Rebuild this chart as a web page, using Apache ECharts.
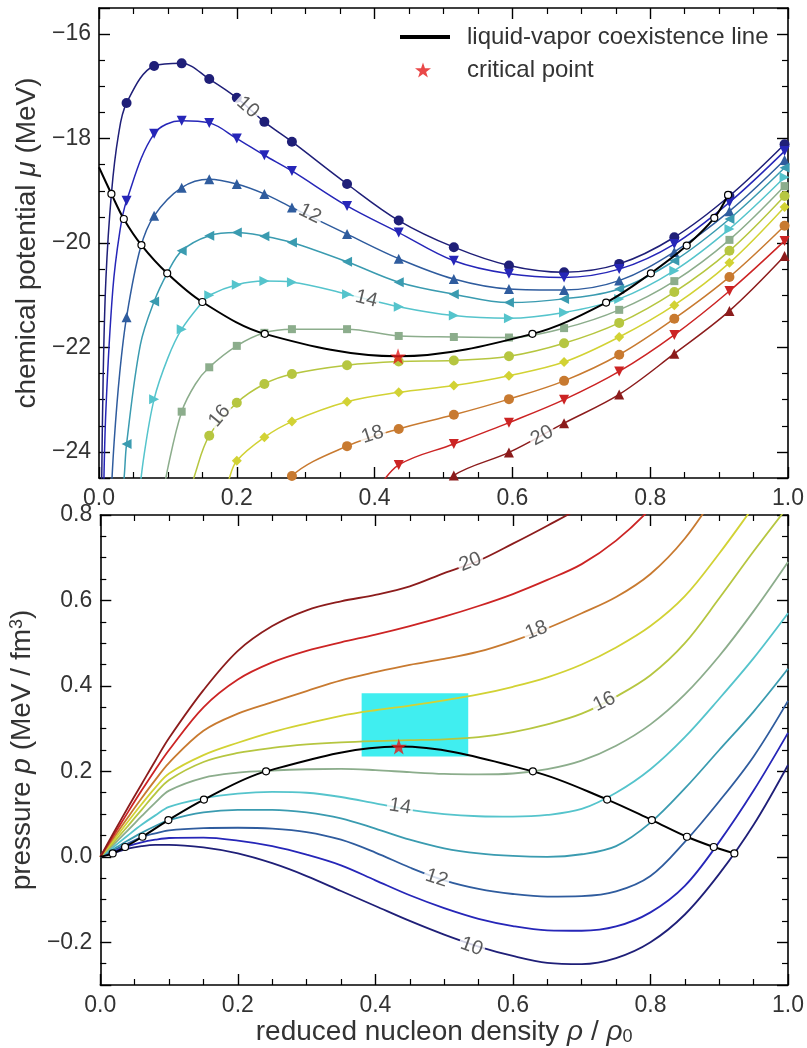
<!DOCTYPE html>
<html><head><meta charset="utf-8">
<script src="https://cdn.jsdelivr.net/npm/echarts@6/dist/echarts.min.js"></script>
<style>html,body{margin:0;padding:0;background:#fff}#c{width:807px;height:1048px}</style>
</head><body><div id="c"></div>
<script>
// ---------------- data ----------------
const temps = [10, 11, 12, 13, 14, 15, 16, 17, 18, 19, 20];
const isoColors = ['#1f1f78', '#2626b8', '#2f5c9e', '#3a9bb0', '#55c4cc', '#8cad8c', '#b6c640', '#d2d234', '#c87a30', '#cc2424', '#8c1c1c'];
const isoSymbols = ['circle', 'triangle', 'triangle', 'triangle', 'triangle', 'rect', 'circle', 'diamond', 'circle', 'triangle', 'triangle'];
const isoSymbolRotate = [0, 180, 0, 90, -90, 0, 0, 0, 0, 180, 0];

// top panel: chemical potential at marker densities
const rhoMarkers = [0.04, 0.08, 0.12, 0.16, 0.20, 0.24, 0.28, 0.36, 0.435, 0.515, 0.595, 0.675, 0.755, 0.835, 0.915, 0.995];
const muMarkers = [
  [-17.32, -16.61, -16.56, -16.86, -17.22, -17.68, -18.06, -18.87, -19.57, -20.08, -20.43, -20.56, -20.40, -19.89, -19.10, -18.11],
  [-19.19, -17.91, -17.66, -17.70, -18.00, -18.32, -18.62, -19.29, -19.80, -20.34, -20.59, -20.66, -20.50, -20.02, -19.22, -18.24],
  [-21.42, -19.48, -18.94, -18.78, -18.87, -19.06, -19.32, -19.83, -20.30, -20.69, -20.88, -20.90, -20.72, -20.17, -19.39, -18.41],
  [-23.85, -21.12, -20.15, -19.86, -19.80, -19.87, -19.99, -20.36, -20.75, -20.98, -21.14, -21.07, -20.88, -20.34, -19.54, -18.56],
  [null, -22.99, -21.65, -21.00, -20.80, -20.73, -20.75, -20.98, -21.22, -21.39, -21.44, -21.33, -21.07, -20.53, -19.73, -18.74],
  [null, null, -23.23, -22.38, -21.97, -21.72, -21.65, -21.65, -21.78, -21.80, -21.81, -21.63, -21.28, -20.73, -19.94, -18.91],
  [null, null, null, -23.69, -23.06, -22.70, -22.51, -22.34, -22.27, -22.25, -22.17, -21.92, -21.53, -20.94, -20.15, -19.10],
  [null, null, null, null, -24.17, -23.72, -23.42, -23.04, -22.86, -22.73, -22.54, -22.28, -21.80, -21.19, -20.38, -19.31],
  [null, null, null, null, null, null, -24.46, -23.89, -23.56, -23.29, -22.99, -22.64, -22.14, -21.45, -20.65, -19.67],
  [null, null, null, null, null, null, null, null, -24.25, -23.85, -23.44, -23.00, -22.46, -21.76, -20.92, -19.96],
  [null, null, null, null, null, null, null, null, null, -24.45, -24.01, -23.45, -22.90, -22.12, -21.30, -20.25]
];
// top panel: extra (unmarked) curve points, low density
const muExtra = [
  [[0.0035, -25.0], [0.006, -22.6], [0.01, -20.7], [0.018, -19.06], [0.028, -17.95]],
  [[0.0065, -25.0], [0.01, -23.2], [0.02, -20.9], [0.03, -19.8]],
  [[0.017, -25.0], [0.022, -23.8], [0.03, -22.5], [0.06, -20.1]],
  [[0.0335, -25.0], [0.037, -24.4], [0.06, -21.95], [0.099, -20.58]],
  [[0.057, -25.0], [0.065, -24.1], [0.10, -22.2], [0.15, -21.13]],
  [[0.091, -25.0], [0.10, -24.3], [0.14, -22.7]],
  [[0.128, -25.0], [0.14, -24.4]],
  [[0.178, -25.0], [0.188, -24.55]],
  [[0.272, -24.9]],
  [[0.40, -24.8]],
  [[0.49, -24.9]]
];

// bottom panel: pressure isotherms
const rhoP = [0, 0.02, 0.04, 0.06, 0.08, 0.1, 0.15, 0.2, 0.25, 0.3, 0.35, 0.4, 0.45, 0.5, 0.55, 0.6, 0.65, 0.7, 0.75, 0.8, 0.85, 0.9, 0.95, 1.0];
const pIso = [
  [0, 0.009, 0.019, 0.025, 0.028, 0.028, 0.022, 0.008, -0.015, -0.045, -0.08, -0.115, -0.15, -0.182, -0.21, -0.232, -0.248, -0.251, -0.237, -0.2, -0.135, -0.04, 0.075, 0.215],
  [0, 0.013, 0.025, 0.034, 0.04, 0.044, 0.045, 0.038, 0.025, 0.005, -0.02, -0.055, -0.09, -0.12, -0.145, -0.162, -0.172, -0.173, -0.163, -0.13, -0.068, 0.035, 0.155, 0.29],
  [0, 0.016, 0.031, 0.046, 0.055, 0.062, 0.067, 0.068, 0.066, 0.058, 0.04, 0.01, -0.025, -0.055, -0.075, -0.087, -0.093, -0.092, -0.081, -0.045, 0.035, 0.13, 0.235, 0.365],
  [0, 0.019, 0.038, 0.056, 0.072, 0.086, 0.104, 0.11, 0.11, 0.104, 0.09, 0.066, 0.04, 0.02, 0.008, 0.002, 0.0, 0.006, 0.025, 0.08, 0.16, 0.25, 0.34, 0.44],
  [0, 0.024, 0.05, 0.075, 0.097, 0.117, 0.137, 0.148, 0.152, 0.15, 0.14, 0.125, 0.11, 0.1, 0.095, 0.094, 0.098, 0.112, 0.15, 0.205, 0.28, 0.37, 0.465, 0.57],
  [0, 0.03, 0.062, 0.095, 0.127, 0.155, 0.185, 0.197, 0.202, 0.205, 0.206, 0.203, 0.198, 0.194, 0.193, 0.195, 0.205, 0.225, 0.26, 0.31, 0.38, 0.47, 0.575, 0.69],
  [0, 0.035, 0.072, 0.11, 0.148, 0.18, 0.222, 0.243, 0.255, 0.263, 0.268, 0.271, 0.273, 0.275, 0.28, 0.292, 0.31, 0.335, 0.375, 0.425, 0.5, 0.605, 0.715, 0.82],
  [0, 0.04, 0.082, 0.123, 0.162, 0.195, 0.238, 0.267, 0.292, 0.312, 0.33, 0.343, 0.354, 0.366, 0.38, 0.398, 0.42, 0.45, 0.49, 0.54, 0.61, 0.71, 0.82, 0.93],
  [0, 0.046, 0.092, 0.137, 0.18, 0.22, 0.295, 0.335, 0.362, 0.388, 0.413, 0.432, 0.449, 0.463, 0.48, 0.505, 0.535, 0.57, 0.608, 0.662, 0.745, 0.86, 0.98, 1.1],
  [0, 0.052, 0.104, 0.155, 0.204, 0.25, 0.35, 0.415, 0.455, 0.482, 0.502, 0.52, 0.54, 0.562, 0.587, 0.615, 0.648, 0.685, 0.74, 0.815, 0.91, 1.02, 1.13, 1.25],
  [0, 0.058, 0.115, 0.17, 0.225, 0.278, 0.39, 0.482, 0.54, 0.577, 0.598, 0.613, 0.633, 0.664, 0.693, 0.733, 0.775, 0.82, 0.88, 0.95, 1.03, 1.12, 1.22, 1.33]
];

// coexistence line (vapor branch, critical point, liquid branch)
const coexRho = [0.0, 0.018, 0.036, 0.0616, 0.099, 0.150, 0.2406, 0.434, 0.629, 0.736, 0.801, 0.853, 0.893, 0.913];
const coexMu = [-18.55, -19.06, -19.54, -20.04, -20.58, -21.13, -21.74, -22.17, -21.74, -21.14, -20.58, -20.05, -19.52, -19.08];
const coexRhoP = [0.0, 0.018, 0.036, 0.0613, 0.099, 0.1507, 0.241, 0.434, 0.629, 0.737, 0.802, 0.853, 0.892, 0.922];
const coexP = [0.0, 0.008, 0.023, 0.047, 0.086, 0.134, 0.200, 0.258, 0.200, 0.134, 0.086, 0.047, 0.023, 0.008];
const coexMarked = [0, 1, 1, 1, 1, 1, 1, 0, 1, 1, 1, 1, 1, 1];
const critRho = 0.434, critMu = -22.17, critP = 0.258;

// highlighted region in pressure panel
const boxRho = [0.38, 0.535];
const boxP = [0.235, 0.383];

// isotherm labels: [rho, value, text, angle]
const labelsTop = [
  [0.216, -17.40, '10', -42], [0.306, -19.44, '12', -26], [0.388, -21.07, '14', -14],
  [0.175, -23.31, '16', 50], [0.397, -23.67, '18', 18], [0.643, -23.69, '20', 28]
];
const labelsBottom = [
  [0.538, 0.690, '20', 21], [0.634, 0.530, '18', 21], [0.733, 0.363, '16', 26],
  [0.436, 0.1175, '14', -9], [0.489, -0.050, '12', -18], [0.540, -0.210, '10', -20]
];

// ---------------- chart ----------------
const FONT = '"Liberation Sans", Arial, Helvetica, sans-serif';
const TXT = '#333';
const STAR = 'path://M50,0 L61.8,35.1 L98.1,35.1 L68.8,56.8 L79.4,91.0 L50,70 L20.6,91.0 L31.2,56.8 L1.9,35.1 L38.2,35.1 Z';
const minus = s => s.replace('-', '\u2212');
const NAME_FS = 28;

function xAxis(gridIndex, position, showLabel, name) {
  const ax = {
    type: 'value', gridIndex, position, min: 0, max: 1, interval: 0.2,
    axisLine: { show: true, onZero: false, lineStyle: { color: '#000', width: 1.6 } },
    axisTick: { show: true, inside: true, length: 11, lineStyle: { color: '#000', width: 1.4 } },
    minorTick: { show: true, splitNumber: 4, length: 6, lineStyle: { color: '#000', width: 1.2 } },
    splitLine: { show: false },
    axisLabel: { show: showLabel, formatter: v => v.toFixed(1), fontSize: 23, color: TXT, margin: 9, fontFamily: FONT }
  };
  if (name) {
    ax.name = name; ax.nameLocation = 'middle'; ax.nameGap = 33;
    ax.nameTextStyle = { fontSize: NAME_FS, color: TXT, fontFamily: FONT, rich: {
      n: { fontSize: NAME_FS, color: TXT, fontFamily: FONT },
      i: { fontSize: NAME_FS, color: TXT, fontFamily: FONT, fontStyle: 'italic' },
      b: { fontSize: 18, color: TXT, fontFamily: FONT, verticalAlign: 'bottom' }
    } };
  }
  return ax;
}
function yAxis(gridIndex, position, showLabel, min, max, step, fmt, name) {
  const ax = {
    type: 'value', gridIndex, position, min, max, minInterval: step, maxInterval: step,
    axisLine: { show: true, onZero: false, lineStyle: { color: '#000', width: 1.6 } },
    axisTick: { show: true, inside: true, length: 11, lineStyle: { color: '#000', width: 1.4 } },
    minorTick: { show: true, splitNumber: 4, length: 6, lineStyle: { color: '#000', width: 1.2 } },
    splitLine: { show: false },
    axisLabel: { show: showLabel, showMinLabel: false, fontSize: 23, color: TXT, margin: 8, fontFamily: FONT,
      formatter: v => { const k = v / step; if (Math.abs(k - Math.round(k)) > 1e-6) return ''; return minus(fmt(v)); } }
  };
  if (name) {
    ax.name = name; ax.nameLocation = 'middle'; ax.nameGap = 54;
    ax.nameTextStyle = { fontSize: NAME_FS, color: TXT, fontFamily: FONT, rich: {
      n: { fontSize: NAME_FS, color: TXT, fontFamily: FONT },
      i: { fontSize: NAME_FS, color: TXT, fontFamily: FONT, fontStyle: 'italic' },
      s: { fontSize: 18, color: TXT, fontFamily: FONT, verticalAlign: 'top' }
    } };
  }
  return ax;
}

const series = [];
// top isotherms
temps.forEach((T, i) => {
  const pts = [];
  muExtra[i].forEach(p => pts.push({ value: [p[0], p[1]], symbol: 'none' }));
  rhoMarkers.forEach((r, j) => { if (muMarkers[i][j] !== null) pts.push({ value: [r, muMarkers[i][j]] }); });
  pts.sort((a, b) => a.value[0] - b.value[0]);
  series.push({
    type: 'line', name: 'T' + T, xAxisIndex: 0, yAxisIndex: 0, data: pts,
    smooth: 0.35, symbol: isoSymbols[i], symbolRotate: isoSymbolRotate[i],
    symbolSize: isoSymbols[i] === 'rect' ? 8 : 10,
    lineStyle: { color: isoColors[i], width: 1.5 }, itemStyle: { color: isoColors[i] },
    z: 3, animation: false, silent: true
  });
});
// bottom isotherms
temps.forEach((T, i) => {
  series.push({
    type: 'line', name: 'P' + T, xAxisIndex: 2, yAxisIndex: 2,
    data: rhoP.map((r, j) => [r, pIso[i][j]]),
    smooth: 0.35, showSymbol: false,
    lineStyle: { color: isoColors[i], width: 1.8 }, z: 3, animation: false, silent: true
  });
});
// highlighted box
series.push({
  type: 'line', name: 'box', xAxisIndex: 2, yAxisIndex: 2, data: [], z: 1, silent: true, animation: false,
  markArea: { silent: true, itemStyle: { color: '#40eef0', opacity: 1 },
    data: [[{ coord: [boxRho[0], boxP[0]] }, { coord: [boxRho[1], boxP[1]] }]] }
});
// coexistence lines
const coexStyle = {
  type: 'line', name: 'liquid-vapor coexistence line', smooth: 0.35,
  symbol: 'circle', symbolSize: 7,
  itemStyle: { color: '#fff', borderColor: '#000', borderWidth: 1.2 },
  lineStyle: { color: '#000', width: 2 }, z: 4, animation: false, silent: true
};
series.push(Object.assign({}, coexStyle, { xAxisIndex: 0, yAxisIndex: 0,
  data: coexRho.map((r, j) => coexMarked[j] ? [r, coexMu[j]] : { value: [r, coexMu[j]], symbol: 'none' }) }));
series.push(Object.assign({}, coexStyle, { xAxisIndex: 2, yAxisIndex: 2,
  data: coexRhoP.map((r, j) => coexMarked[j] ? [r, coexP[j]] : { value: [r, coexP[j]], symbol: 'none' }) }));
// critical points
const critStyle = { type: 'scatter', name: 'critical point', symbol: STAR, symbolSize: 16,
  itemStyle: { color: '#e41a1a' }, z: 6, animation: false, silent: true };
series.push(Object.assign({}, critStyle, { xAxisIndex: 0, yAxisIndex: 0, data: [[critRho, critMu]] }));
series.push(Object.assign({}, critStyle, { xAxisIndex: 2, yAxisIndex: 2, data: [[critRho, critP]] }));
// isotherm labels
function labelSeries(list, xi, yi) {
  return {
    type: 'scatter', name: 'lbl' + xi, xAxisIndex: xi, yAxisIndex: yi, symbolSize: 1,
    itemStyle: { color: 'rgba(0,0,0,0)' }, z: 5, animation: false, silent: true,
    label: { show: true, position: 'inside', formatter: '{b}', fontSize: 20, color: TXT, fontFamily: FONT,
      backgroundColor: '#fff', padding: [0, 2] },
    data: list.map(l => ({ name: l[2], value: [l[0], l[1]], label: { rotate: l[3] } }))
  };
}
series.push(labelSeries(labelsTop, 0, 0));
series.push(labelSeries(labelsBottom, 2, 2));

const option = {
  backgroundColor: '#fff',
  animation: false,
  grid: [
    { left: 99, right: 18, top: 8, height: 470 },
    { left: 99, right: 18, top: 515, height: 470 }
  ],
  xAxis: [
    xAxis(0, 'bottom', true),
    xAxis(0, 'top', false),
    xAxis(1, 'bottom', true, '{n|reduced nucleon density }{i|ρ}{n| / }{i|ρ}{b|0}'),
    xAxis(1, 'top', false)
  ],
  yAxis: [
    yAxis(0, 'left', true, -24.5, -15.5, 2, v => String(Math.round(v)), '{n|chemical potential }{i|μ}{n| (MeV)}'),
    yAxis(0, 'right', false, -24.5, -15.5, 2, v => String(Math.round(v))),
    yAxis(1, 'left', true, -0.3, 0.8, 0.2, v => (Math.abs(v) < 1e-9 ? 0 : v).toFixed(1), '{n|pressure }{i|p}{n| (MeV / fm}{s|3}{n|)}'),
    yAxis(1, 'right', false, -0.3, 0.8, 0.2, v => v.toFixed(1))
  ],
  legend: [
    { left: 400, top: 25, padding: 0, itemWidth: 48, itemHeight: 2, selectedMode: false,
      textStyle: { fontSize: 24, color: TXT, fontFamily: FONT, padding: [0, 0, 0, 13] },
      data: [{ name: 'liquid-vapor coexistence line', icon: 'rect', itemStyle: { color: '#000' } }] },
    { left: 415, top: 58, padding: 0, itemWidth: 16, itemHeight: 16, selectedMode: false,
      textStyle: { fontSize: 24, color: TXT, fontFamily: FONT, padding: [0, 0, 0, 31] },
      data: [{ name: 'critical point', icon: STAR, itemStyle: { color: '#e41a1a' } }] }
  ],
  series
};
const chart = echarts.init(document.getElementById('c'), null, { renderer: 'canvas' });
chart.setOption(option);
</script></body></html>
